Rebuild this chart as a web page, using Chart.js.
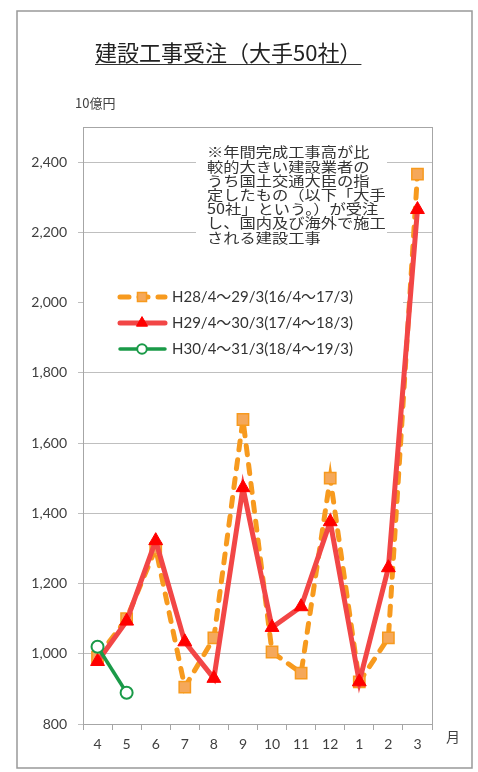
<!DOCTYPE html>
<html>
<head>
<meta charset="utf-8">
<script src="https://cdn.jsdelivr.net/npm/chart.js@4.4.1/dist/chart.umd.min.js"></script>
<style>
html,body{margin:0;padding:0;background:#fff;}
canvas{display:block;}
</style>
</head>
<body>
<canvas id="c" width="478" height="772"></canvas>
<script>
/* 建設工事受注（大手50社） */
const months=['4','5','6','7','8','9','10','11','12','1','2','3'];
const h28=[990,1100,1300,905,1045,1667,1005,945,1500,920,1045,2366];
const h29=[978,1093,1322,1034,930,1473,1075,1134,1376,920,1245,2265];
const h30=[1020,889];
const seriesNames=['H28/4～29/3(16/4～17/3)','H29/4～30/3(17/4～18/3)','H30/4～31/3(18/4～19/3)'];
const yTicks=[800,1000,1200,1400,1600,1800,2000,2200,2400];
const titleText='建設工事受注（大手50社）';
const unitText='10億円';
const noteLines=['※年間完成工事高が比','較的大きい建設業者の','うち国土交通大臣の指','定したもの（以下「大手','50社」という。）が受注','し、国内及び海外で施工','される建設工事'];

const LAT='Lato, "Noto Sans CJK JP", sans-serif';
const JP='"Noto Sans CJK JP", sans-serif';

const decor={
  id:'decor',
  beforeDraw(chart){
    const ctx=chart.ctx;
    ctx.save();ctx.fillStyle='#fff';ctx.fillRect(0,0,chart.width,chart.height);ctx.restore();
  },
  beforeDatasetsDraw(chart){
    const ctx=chart.ctx,a=chart.chartArea;
    ctx.save();
    // plot frame
    ctx.strokeStyle='#a6a6a6';ctx.lineWidth=1;
    ctx.strokeRect(a.left+0.5,a.top+0.5,a.right-a.left,a.bottom-a.top);
    // note box
    ctx.fillStyle='#fff';ctx.fillRect(196,140,191,108);
    ctx.fillStyle='#333';ctx.font='14px '+JP;ctx.textBaseline='middle';
    noteLines.forEach(function(t,i){
      ctx.save();ctx.translate(207,152+i*14.2);ctx.scale(1.16,1);ctx.fillText(t,0,0);ctx.restore();
    });
    // legend box
    ctx.fillStyle='#fff';ctx.fillRect(a.left+1,282,402-a.left,80);
    const rows=[297,323,349];
    chart.data.datasets.forEach(function(ds,i){
      const y=rows[i];
      ctx.save();
      ctx.strokeStyle=ds.borderColor;ctx.lineWidth=ds.borderWidth;ctx.lineCap='round';
      ctx.setLineDash(ds.borderDash||[]);
      ctx.beginPath();ctx.moveTo(120,y);ctx.lineTo(165,y);ctx.stroke();
      ctx.restore();
      ctx.save();
      ctx.fillStyle=ds.pointBackgroundColor;ctx.strokeStyle=ds.pointBorderColor;ctx.lineWidth=ds.pointBorderWidth;
      Chart.helpers.drawPoint(ctx,{pointStyle:ds.pointStyle,radius:ds.pointRadius*0.8,rotation:0,borderWidth:ds.pointBorderWidth},142,y);
      ctx.restore();
      ctx.fillStyle='#333';ctx.font='15px '+LAT;ctx.textBaseline='middle';
      ctx.fillText(ds.label,172,y);
    });
    ctx.restore();
  },
  afterDraw(chart){
    const ctx=chart.ctx;
    ctx.save();
    // outer frame
    ctx.strokeStyle='#999';ctx.lineWidth=1.5;ctx.strokeRect(17,11,455,757);
    // title
    ctx.fillStyle='#222';ctx.font='22px '+JP;ctx.textBaseline='alphabetic';ctx.textAlign='left';
    ctx.fillText(titleText,95,61);
    const w=ctx.measureText(titleText).width;
    ctx.strokeStyle='#333';ctx.lineWidth=1.2;ctx.beginPath();ctx.moveTo(95,64.5);ctx.lineTo(95+w,64.5);ctx.stroke();
    // unit
    ctx.fillStyle='#404040';ctx.font='13px '+JP;ctx.textBaseline='middle';
    ctx.fillText(unitText,75,103);
    ctx.font='14px '+JP;ctx.fillText('月',446,737);
    ctx.restore();
  }
};

new Chart(document.getElementById('c'),{
  type:'line',
  data:{labels:months,datasets:[
    {label:seriesNames[0],data:h28,order:3,borderColor:'#f79a1e',borderWidth:5,borderDash:[9,10],borderCapStyle:'round',
      pointStyle:'rect',pointRadius:8,pointBackgroundColor:'#f5a85a',pointBorderColor:'#f79a1e',pointBorderWidth:1.5,tension:0},
    {label:seriesNames[1],data:h29,order:2,borderColor:'#f24646',borderWidth:5,
      pointStyle:'triangle',pointRadius:8,pointBackgroundColor:'#ff0000',pointBorderColor:'#ff0000',pointBorderWidth:1,tension:0},
    {label:seriesNames[2],data:h30,order:1,borderColor:'#1a9a48',borderWidth:3.5,
      pointStyle:'circle',pointRadius:6,pointBackgroundColor:'#ffffff',pointBorderColor:'#1a9a48',pointBorderWidth:2,tension:0}
  ]},
  options:{responsive:false,animation:false,devicePixelRatio:1,
    layout:{padding:{left:0,top:127,right:46,bottom:0}},
    plugins:{legend:{display:false},tooltip:{enabled:false},title:{display:false}},
    scales:{
      x:{offset:true,afterFit:function(s){s.height=48;},
        grid:{offset:true,drawOnChartArea:false,tickLength:6,color:'#a6a6a6'},
        border:{color:'#a6a6a6'},
        ticks:{color:'#404040',font:{family:LAT,size:14},padding:6,maxRotation:0}},
      y:{min:800,max:2500,afterFit:function(s){s.width=83;},
        afterBuildTicks:function(s){s.ticks=yTicks.map(function(v){return {value:v};});},
        grid:{color:'#bfbfbf',tickLength:5},
        border:{color:'#a6a6a6'},
        ticks:{color:'#404040',font:{family:LAT,size:14},padding:11,
          callback:function(v){return v.toLocaleString('en-US');}}}
    }
  },
  plugins:[decor]
});
</script>
</body>
</html>
